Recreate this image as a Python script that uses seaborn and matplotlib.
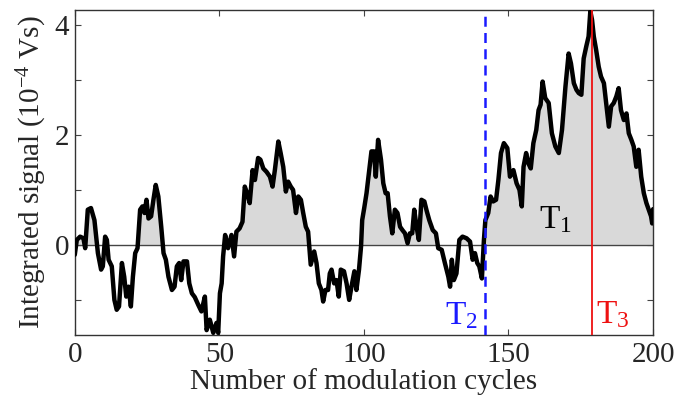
import numpy as np
import pandas as pd
import matplotlib
matplotlib.use("Agg")
import matplotlib.pyplot as plt
import seaborn as sns
from matplotlib.ticker import MultipleLocator, FixedLocator

# ---- data ----
cycles = [0, 0.7, 1.85, 3.0, 3.6, 4.5, 5.6, 6.8, 8.0, 9.1, 9.7, 10.5, 11.1, 11.7, 12.8,
          13.7, 14.5, 15.3, 16.3, 17.1, 17.8, 18.6, 19.4, 20.1, 20.9, 21.7, 22.6, 23.4,
          24.1, 24.8, 25.5, 26.4, 27.2, 28.0, 28.9, 29.9, 30.7, 31.5, 32.4, 33.6, 34.5,
          35.3, 36.1, 36.8, 37.6, 38.8, 39.6, 40.5, 41.5, 42.7, 43.8, 45.0, 45.6, 46.7,
          47.9, 49.0, 49.6, 50.2, 50.8, 51.3, 52.0, 53.0, 54.2, 55.1, 55.9, 57.0, 58.0,
          58.8, 59.6, 60.5, 61.5, 62.3, 63.4, 64.2, 65.2, 66.3, 67.5, 68.4, 69.2, 70.4,
          71.2, 72.1, 73.0, 73.8, 74.7, 75.5, 76.5, 77.3, 78.2, 79.0, 79.9, 80.7, 81.6,
          82.8, 83.6, 84.4, 85.3, 85.9, 86.7, 87.6, 88.2, 88.8, 89.7, 90.5, 91.3, 92.0,
          93.1, 94.0, 94.9, 95.7, 96.7, 97.4, 98.3, 99.0, 99.4, 100.1, 100.9, 101.7,
          102.6, 103.5, 104.1, 104.9, 105.9, 106.7, 107.5, 108.2, 109.0, 109.8, 110.7,
          111.6, 112.5, 113.3, 114.2, 115.1, 115.9, 116.7, 117.4, 118.2, 119.0, 119.9,
          120.9, 121.7, 122.6, 123.8, 124.9, 125.7, 126.9, 128.0, 129.2, 129.8, 130.4,
          131.1, 132.0, 133.0, 134.1, 135.5, 136.7, 137.6, 138.4, 139.2, 139.9, 140.8,
          141.5, 142.0, 143.0, 143.8, 144.7, 145.7, 146.5, 147.4, 148.4, 149.6, 150.5,
          151.7, 152.8, 153.8, 154.6, 155.2, 156.1, 156.9, 157.7, 158.6, 159.6, 160.4,
          161.1, 161.8, 162.7, 163.9, 165.0, 166.2, 167.4, 168.5, 169.7, 170.8, 171.6,
          172.6, 173.5, 174.3, 175.2, 176.0, 176.9, 177.7, 178.3, 178.9, 179.5, 180.3,
          181.2, 182.0, 183.0, 183.9, 184.7, 185.5, 186.4, 187.3, 188.1, 188.9, 189.9,
          190.8, 191.6, 192.5, 193.3, 194.2, 195.0, 195.9, 196.8, 197.7, 198.5, 199.3,
          199.7, 200.0]
signal = [-0.18, 0.09, 0.15, 0.12, -0.06, 0.64, 0.67, 0.45, -0.15, -0.45, -0.39, 0.15,
          0.09, -0.27, -0.39, -1.0, -1.18, -1.12, -0.33, -0.58, -0.94, -0.76, -1.12, -0.58,
          -0.15, -0.06, 0.64, 0.70, 0.58, 0.82, 0.48, 0.52, 0.82, 1.09, 0.88, 0.33, -0.15,
          -0.27, -0.58, -0.82, -0.76, -0.39, -0.33, -0.64, -0.30, -0.30, -0.70, -0.88,
          -0.95, -1.09, -1.21, -0.94, -1.55, -1.36, -1.60, -1.42, -1.60, -0.88, -0.70,
          -0.21, 0.18, -0.06, 0.18, -0.21, 0.24, 0.30, 0.42, 1.06, 0.94, 0.76, 1.36, 1.18,
          1.58, 1.55, 1.39, 1.33, 1.24, 1.06, 1.36, 1.88, 1.67, 1.42, 0.97, 1.15, 1.06,
          1.00, 0.58, 0.88, 0.82, 0.58, 0.33, 0.24, -0.36, -0.12, -0.33, -0.70, -0.82,
          -1.03, -0.82, -0.82, -0.52, -0.45, -0.70, -0.64, -0.94, -0.45, -0.48, -0.70,
          -1.0, -0.76, -0.48, -0.82, -0.45, -0.03, 0.45, 0.67, 0.94, 1.30, 1.70, 1.70,
          1.24, 1.91, 1.55, 1.12, 0.94, 0.94, 0.52, 0.21, 0.64, 0.58, 0.33, 0.27, 0.21,
          0.03, 0.21, 0.21, 0.64, 0.33, 0.09, 0.82, 0.79, 0.62, 0.45, 0.27, 0.21, -0.06,
          -0.09, -0.33, -0.58, -0.76, -0.27, -0.64, -0.52, 0.09, 0.15, 0.12, 0.06, -0.27,
          -0.15, -0.33, -0.39, -0.61, 0.09, 0.45, 0.58, 0.88, 0.79, 0.82, 1.18, 1.67,
          1.85, 1.76, 1.24, 1.36, 1.12, 1.00, 0.70, 1.42, 1.67, 1.48, 1.39, 1.85, 2.09,
          2.45, 2.55, 2.97, 2.67, 2.58, 2.03, 1.79, 1.67, 2.09, 2.88, 3.48, 3.30, 2.94,
          2.82, 2.76, 2.73, 3.39, 3.61, 3.79, 4.25, 4.09, 3.79, 3.55, 3.24, 3.06, 2.94,
          2.52, 2.15, 2.52, 2.58, 2.70, 2.85, 2.45, 2.27, 2.39, 2.03, 1.91, 1.79, 1.42,
          1.73, 1.24, 0.94, 0.76, 0.64, 0.52, 0.39, 0.65]

t2_cycle = 142
t3_cycle = 179
x_ticks = [0, 50, 100, 150, 200]
y_major = [0, 2, 4]
y_minor = [-1, 1, 3]

# ---- style ----
sns.set_theme(style="ticks")
plt.rcParams["font.family"] = ["Liberation Serif", "DejaVu Serif"]
plt.rcParams["mathtext.default"] = "regular"
plt.rcParams["axes.unicode_minus"] = False

df = pd.DataFrame({"cycles": cycles, "signal": signal})

fig = plt.figure(figsize=(6.86, 3.97), dpi=100)
ax = fig.add_axes([0.109, 0.156, 0.843, 0.820])

x = np.asarray(cycles)
y = np.asarray(signal)
ax.fill_between(x, y, 0, where=y > 0, interpolate=True, color="#d9d9d9", lw=0, zorder=1)
ax.axhline(0, color="#444444", lw=1.0, zorder=2)
sns.lineplot(data=df, x="cycles", y="signal", color="black", lw=3.2, ax=ax,
             sort=False, estimator=None, zorder=3)

ax.axvline(t2_cycle, color="#1a1aff", ls=(0, (4, 2.5)), lw=1.8, zorder=4)
ax.axvline(t3_cycle, color="#ee1111", lw=1.3, zorder=4)

ax.text(139.3, -1.45, "T$_2$", color="#1a1aff", fontsize=24, ha="right", va="baseline")
ax.text(180.2, -1.42, "T$_3$", color="#ee1111", fontsize=24, ha="left", va="baseline")
ax.text(160.5, 0.31, "T$_1$", color="black", fontsize=24, ha="left", va="baseline")

ax.set_xlim(0, 200)
ax.set_ylim(-1.64, 4.28)
ax.xaxis.set_major_locator(FixedLocator(x_ticks))
ax.yaxis.set_major_locator(FixedLocator(y_major))
ax.yaxis.set_minor_locator(FixedLocator(y_minor))

ax.tick_params(which="both", direction="in", top=True, right=True, length=4.5,
               width=0.8, color="#444444", labelsize=21, pad=5)
ax.tick_params(axis="y", pad=4)
for s in ax.spines.values():
    s.set_visible(True)
    s.set_color("#333333")
    s.set_linewidth(1.0)

ax.set_xlabel("Number of modulation cycles", fontsize=21, labelpad=0)
ax.set_ylabel("Integrated signal (10$^{-4}$ Vs)", fontsize=21, labelpad=4)

fig.savefig("out.png", dpi=100)
